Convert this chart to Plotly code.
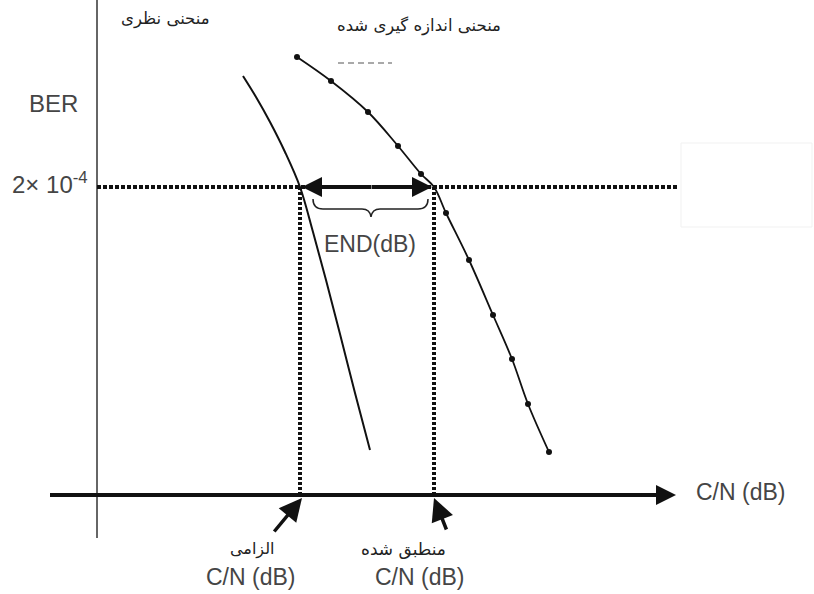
import plotly.graph_objects as go

# Schematic units: x grows with C/N, y grows downward (lower BER further down)
THEORY_X = [243, 256, 270, 285, 300, 313, 326, 340, 355, 370]
THEORY_Y = [76, 97, 122, 152, 187, 232, 280, 334, 393, 450]

MEASURED_X = [297, 331, 368, 398, 421, 434, 446, 469, 493, 512, 528, 549]
MEASURED_Y = [57, 81, 112, 146, 174, 187, 213, 260, 315, 359, 404, 452]
MEASURED_MARK_X = [297, 331, 368, 398, 421, 446, 469, 493, 512, 528, 549]
MEASURED_MARK_Y = [57, 81, 112, 146, 174, 213, 260, 315, 359, 404, 452]

BER_LEVEL = 187          # 2x10^-4 reference level
CN_REQUIRED = 300        # required C/N
CN_IMPLEMENTED = 434     # implemented C/N
CN_AXIS_Y = 495
BER_AXIS_X = 97

LATIN = "Liberation Sans, Arial, sans-serif"
PERSIAN = "DejaVu Sans, sans-serif"
TEXT_GRAY = "#454545"

fig = go.Figure()

# BER axis (vertical)
fig.add_trace(go.Scatter(x=[BER_AXIS_X, BER_AXIS_X], y=[0, 538], mode="lines",
                         line=dict(color="#666666", width=2), hoverinfo="skip"))

# C/N axis (horizontal)
fig.add_trace(go.Scatter(x=[50, 662], y=[CN_AXIS_Y, CN_AXIS_Y], mode="lines",
                         line=dict(color="#111111", width=4), hoverinfo="skip"))

# BER reference level (dotted)
fig.add_trace(go.Scatter(x=[BER_AXIS_X, 678], y=[BER_LEVEL, BER_LEVEL], mode="lines",
                         line=dict(color="#111111", width=4, dash="4px,2px"), hoverinfo="skip"))

# vertical dotted drop lines
for cx in (CN_REQUIRED, CN_IMPLEMENTED):
    fig.add_trace(go.Scatter(x=[cx, cx], y=[BER_LEVEL, CN_AXIS_Y], mode="lines",
                             line=dict(color="#111111", width=4, dash="3px,2px"),
                             hoverinfo="skip"))

# theoretical curve
fig.add_trace(go.Scatter(x=THEORY_X, y=THEORY_Y, mode="lines",
                         line=dict(color="#111111", width=2, shape="spline"),
                         hoverinfo="skip"))

# measured curve
fig.add_trace(go.Scatter(x=MEASURED_X, y=MEASURED_Y, mode="lines",
                         line=dict(color="#111111", width=1.8, shape="spline"),
                         hoverinfo="skip"))
fig.add_trace(go.Scatter(x=MEASURED_MARK_X, y=MEASURED_MARK_Y, mode="markers",
                         marker=dict(color="#111111", size=6, symbol="circle"),
                         hoverinfo="skip"))

# short dashed legend stroke
fig.add_trace(go.Scatter(x=[338, 392], y=[63, 63], mode="lines",
                         line=dict(color="#555555", width=1.2, dash="6px,4px"),
                         hoverinfo="skip"))

shapes = [
    # brace under the END span
    dict(type="path", xref="x", yref="y",
         path=("M 313 199 Q 313 209 323 209 L 362 209 Q 370 209 371 217 "
               "Q 372 209 380 209 L 418 209 Q 428 209 428 199"),
         line=dict(color="#222222", width=1.5)),
    # faint box on the right
    dict(type="rect", xref="x", yref="y", x0=681, x1=812, y0=143, y1=227,
         line=dict(color="#f1f1f1", width=1)),
]

annotations = []

def arrow(x, y, ax, ay, width, size=1.0):
    annotations.append(dict(x=x, y=y, ax=ax, ay=ay, xref="x", yref="y", axref="x",
                            ayref="y", showarrow=True, arrowhead=2, arrowsize=size,
                            arrowwidth=width, arrowcolor="#111111", text=""))

# C/N axis arrowhead
arrow(676, CN_AXIS_Y, 640, CN_AXIS_Y, 4)
# END double arrow
arrow(CN_REQUIRED + 2, BER_LEVEL, 370, BER_LEVEL, 4)
arrow(CN_IMPLEMENTED - 2, BER_LEVEL, 370, BER_LEVEL, 4)
# pointers to the C/N values
arrow(CN_REQUIRED + 2, CN_AXIS_Y + 3, 273, 533, 3.5, 1.3)
arrow(CN_IMPLEMENTED, CN_AXIS_Y + 3, 447, 531, 3.5, 1.3)

def label(x, y, text, size, font=LATIN, color=TEXT_GRAY):
    annotations.append(dict(x=x, y=y, xref="x", yref="y", text=text, showarrow=False,
                            font=dict(family=font, size=size, color=color)))

label(740, 492, "C/N (dB)", 23)
label(53, 103, "BER", 24)
label(50, 183, "2× 10<sup>-4</sup>", 24)
label(370, 244, "END(dB)", 23)
label(250, 577, "C/N (dB)", 23)
label(419, 577, "C/N (dB)", 23)
label(165, 19, "منحنی نظری", 16.5, PERSIAN, "#222222")
label(419, 26, "منحنی اندازه گیری شده", 16.5, PERSIAN, "#222222")
label(252, 549, "الزامی", 16, PERSIAN, "#222222")
label(403, 549, "منطبق شده", 17, PERSIAN, "#222222")

fig.update_layout(
    width=814, height=594,
    margin=dict(l=0, r=0, t=0, b=0),
    paper_bgcolor="white", plot_bgcolor="white",
    showlegend=False,
    xaxis=dict(range=[0, 814], visible=False, fixedrange=True),
    yaxis=dict(range=[594, 0], visible=False, fixedrange=True),
    shapes=shapes, annotations=annotations,
)

fig.write_html("out.html")
